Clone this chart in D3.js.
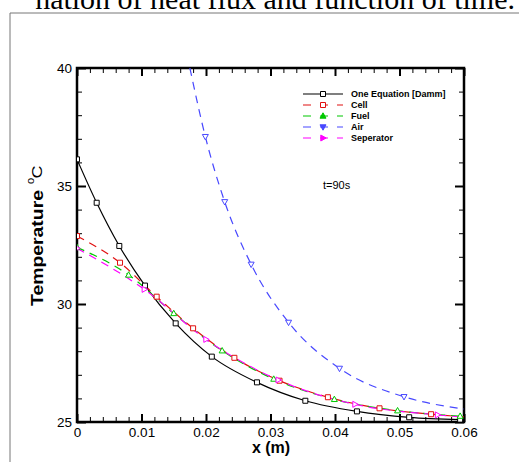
<!DOCTYPE html>
<html>
<head>
<meta charset="utf-8">
<script src="https://cdn.jsdelivr.net/npm/d3@7"></script>
<style>
  body { margin: 0; background: #fff; }
  text { font-family: "Liberation Sans", Arial, sans-serif; }
</style>
</head>
<body>
<div id="chart"></div>
<script>
// values
const xOne = [0, 0.00305, 0.00656, 0.01054, 0.0153, 0.0209, 0.0279, 0.0354, 0.0434, 0.0515, 0.0594];
const tOne = [36.13, 34.29, 32.46, 30.78, 29.18, 27.77, 26.68, 25.9, 25.45, 25.2, 25.1];

const xCell = [0, 0.00667, 0.01235, 0.018, 0.0244, 0.0314, 0.0389, 0.0469, 0.0549];
const tCell = [32.88, 31.75, 30.31, 28.97, 27.72, 26.75, 26.05, 25.58, 25.33];
const endCell = [0.06, 25.22];

const xFuel = [0, 0.008, 0.015, 0.0225, 0.0305, 0.0399, 0.0497, 0.0594];
const tFuel = [32.4, 31.23, 29.6, 28.02, 26.82, 25.96, 25.48, 25.25];

const xAir = [0.0199, 0.0229, 0.027, 0.0328, 0.0407, 0.0507];
const tAir = [37.09, 34.33, 31.68, 29.22, 27.27, 26.07];
const startAir = [0.0175, 40.0];
const endAir = [0.06, 25.55];

const xSep = [0, 0.01044, 0.02, 0.0312, 0.0431, 0.0559];
const tSep = [32.36, 30.62, 28.5, 26.78, 25.75, 25.3];
const endSep = [0.06, 25.2];

const xTicks = [0, 0.01, 0.02, 0.03, 0.04, 0.05, 0.06];
const yTicks = [25, 30, 35, 40];

const W = 519, H = 462;
const margin = {top: 68, right: 55, bottom: 40, left: 77},
    width = W - margin.left - margin.right,
    height = H - margin.top - margin.bottom;

const svg = d3.select("#chart").append("svg")
    .attr("width", W).attr("height", H);

// page text and frame around the figure
svg.append("text")
    .attr("x", 515).attr("y", 9)
    .attr("text-anchor", "end")
    .style("font-family", "'Liberation Serif', 'Times New Roman', serif")
    .style("font-size", "30px")
    .text("nation of heat flux and function of time.");
svg.append("line").attr("x1", 10).attr("y1", 13).attr("x2", W).attr("y2", 13)
    .attr("stroke", "#777").attr("stroke-width", 1);
svg.append("line").attr("x1", 10).attr("y1", 13).attr("x2", 10).attr("y2", H)
    .attr("stroke", "#777").attr("stroke-width", 1);

const g = svg.append("g")
    .attr("transform", "translate(" + margin.left + "," + margin.top + ")");

const x = d3.scaleLinear().domain([0, 0.06]).range([0, width]);
const y = d3.scaleLinear().domain([25, 40]).range([height, 0]);

const xMinor = d3.range(0, 0.0601, 0.002).filter(v => Math.abs(v * 100 - Math.round(v * 100)) > 1e-6);
const yMinor = d3.range(25, 40.01, 1).filter(v => v % 5 !== 0);

function axisPart(axis, transform, values, size, labels) {
    const a = g.append("g").attr("transform", transform)
        .call(axis.tickValues(values).tickSize(-size).tickPadding(5)
            .tickFormat(labels ? (d => d3.format("")(+d.toFixed(2))) : ""));
    a.select(".domain").remove();
    a.selectAll("line").attr("stroke", "#000");
    a.selectAll("text").style("font-size", "13.5px").attr("fill", "#000");
    return a;
}
// bottom / left with labels
axisPart(d3.axisBottom(x), "translate(0," + height + ")", xTicks, 8, true)
    .selectAll("line").attr("stroke-width", 2);
axisPart(d3.axisBottom(x), "translate(0," + height + ")", xMinor, 5, false);
axisPart(d3.axisLeft(y), "translate(0,0)", yTicks, 9, true)
    .selectAll("line").attr("stroke-width", 2);
axisPart(d3.axisLeft(y), "translate(0,0)", yMinor, 5, false);
// top / right mirrored ticks
axisPart(d3.axisTop(x), "translate(0,0)", xTicks, 8, false)
    .selectAll("line").attr("stroke-width", 2);
axisPart(d3.axisTop(x), "translate(0,0)", xMinor, 5, false);
axisPart(d3.axisRight(y), "translate(" + width + ",0)", yTicks, 9, false)
    .selectAll("line").attr("stroke-width", 2);
axisPart(d3.axisRight(y), "translate(" + width + ",0)", yMinor, 5, false);

g.append("rect")
    .attr("width", width).attr("height", height)
    .attr("fill", "none").attr("stroke", "#000").attr("stroke-width", 2.5);

// axis titles
svg.append("text")
    .attr("x", 271).attr("y", 453)
    .attr("text-anchor", "middle")
    .style("font-size", "16px").style("font-weight", "bold")
    .text("x (m)");
svg.append("text")
    .attr("transform", "translate(43,248) rotate(-90)")
    .attr("text-anchor", "middle")
    .attr("textLength", 116).attr("lengthAdjust", "spacingAndGlyphs")
    .style("font-size", "16px").style("font-weight", "bold")
    .text("Temperature");
svg.append("text")
    .attr("transform", "translate(42,172) rotate(-90)")
    .attr("text-anchor", "middle")
    .attr("textLength", 13).attr("lengthAdjust", "spacingAndGlyphs")
    .style("font-size", "15px")
    .text("C");
svg.append("text")
    .attr("transform", "translate(33.5,181) rotate(-90)")
    .attr("text-anchor", "middle")
    .style("font-size", "11px")
    .text("o");

// series
const zip = (xs, ts) => xs.map((v, i) => [v, ts[i]]);
const series = [
    {name: "One Equation [Damm]", color: "#000000", dash: null, mark: "square",
        marks: zip(xOne, tOne), line: zip(xOne, tOne)},
    {name: "Cell", color: "#e01010", dash: "8,6", mark: "square",
        marks: zip(xCell, tCell), line: zip(xCell, tCell).concat([endCell])},
    {name: "Fuel", color: "#00c800", dash: "8,6", mark: "up",
        marks: zip(xFuel, tFuel), line: zip(xFuel, tFuel)},
    {name: "Air", color: "#4848ff", dash: "8,6", mark: "down",
        marks: zip(xAir, tAir), line: [startAir].concat(zip(xAir, tAir), [endAir])},
    {name: "Seperator", color: "#ff00ff", dash: "8,6", mark: "right",
        marks: zip(xSep, tSep), line: zip(xSep, tSep).concat([endSep])}
];

g.append("clipPath").attr("id", "clip")
    .append("rect").attr("width", width).attr("height", height);

const line = d3.line()
    .x(d => x(d[0])).y(d => y(d[1]))
    .curve(d3.curveMonotoneX);

const shapes = {
    square: "M-2.5,-2.5H2.5V2.5H-2.5Z",
    up: "M0,-3.2L3,2.2L-3,2.2Z",
    down: "M0,3.2L3,-2.2L-3,-2.2Z",
    right: "M3.2,0L-2.2,3L-2.2,-3Z"
};

const plot = g.append("g").attr("clip-path", "url(#clip)");
series.forEach(s => {
    plot.append("path")
        .datum(s.line)
        .attr("fill", "none")
        .attr("stroke", s.color)
        .attr("stroke-width", 1.2)
        .attr("stroke-dasharray", s.dash)
        .attr("d", line);
});
series.forEach(s => {
    plot.selectAll(null)
        .data(s.marks)
        .enter().append("path")
        .attr("transform", d => "translate(" + x(d[0]) + "," + y(d[1]) + ")")
        .attr("d", shapes[s.mark])
        .attr("fill", "#fff")
        .attr("stroke", s.color)
        .attr("stroke-width", 1);
});

// legend
const legend = svg.append("g").attr("transform", "translate(303,94)");
series.forEach((s, i) => {
    const row = legend.append("g").attr("transform", "translate(0," + (i * 11) + ")");
    row.append("line")
        .attr("x1", 0).attr("x2", 40)
        .attr("stroke", s.color).attr("stroke-width", 1.2)
        .attr("stroke-dasharray", s.dash ? "8,9" : null);
    row.append("path")
        .attr("transform", "translate(20,0)")
        .attr("d", shapes[s.mark])
        .attr("fill", s.mark === "square" ? "#fff" : s.color)
        .attr("stroke", s.color);
    row.append("text")
        .attr("x", 48).attr("y", 3.3)
        .style("font-size", "9px").style("font-weight", "bold")
        .text(s.name);
});

svg.append("text")
    .attr("x", 323).attr("y", 189)
    .style("font-size", "11px")
    .text("t=90s");
</script>
</body>
</html>
